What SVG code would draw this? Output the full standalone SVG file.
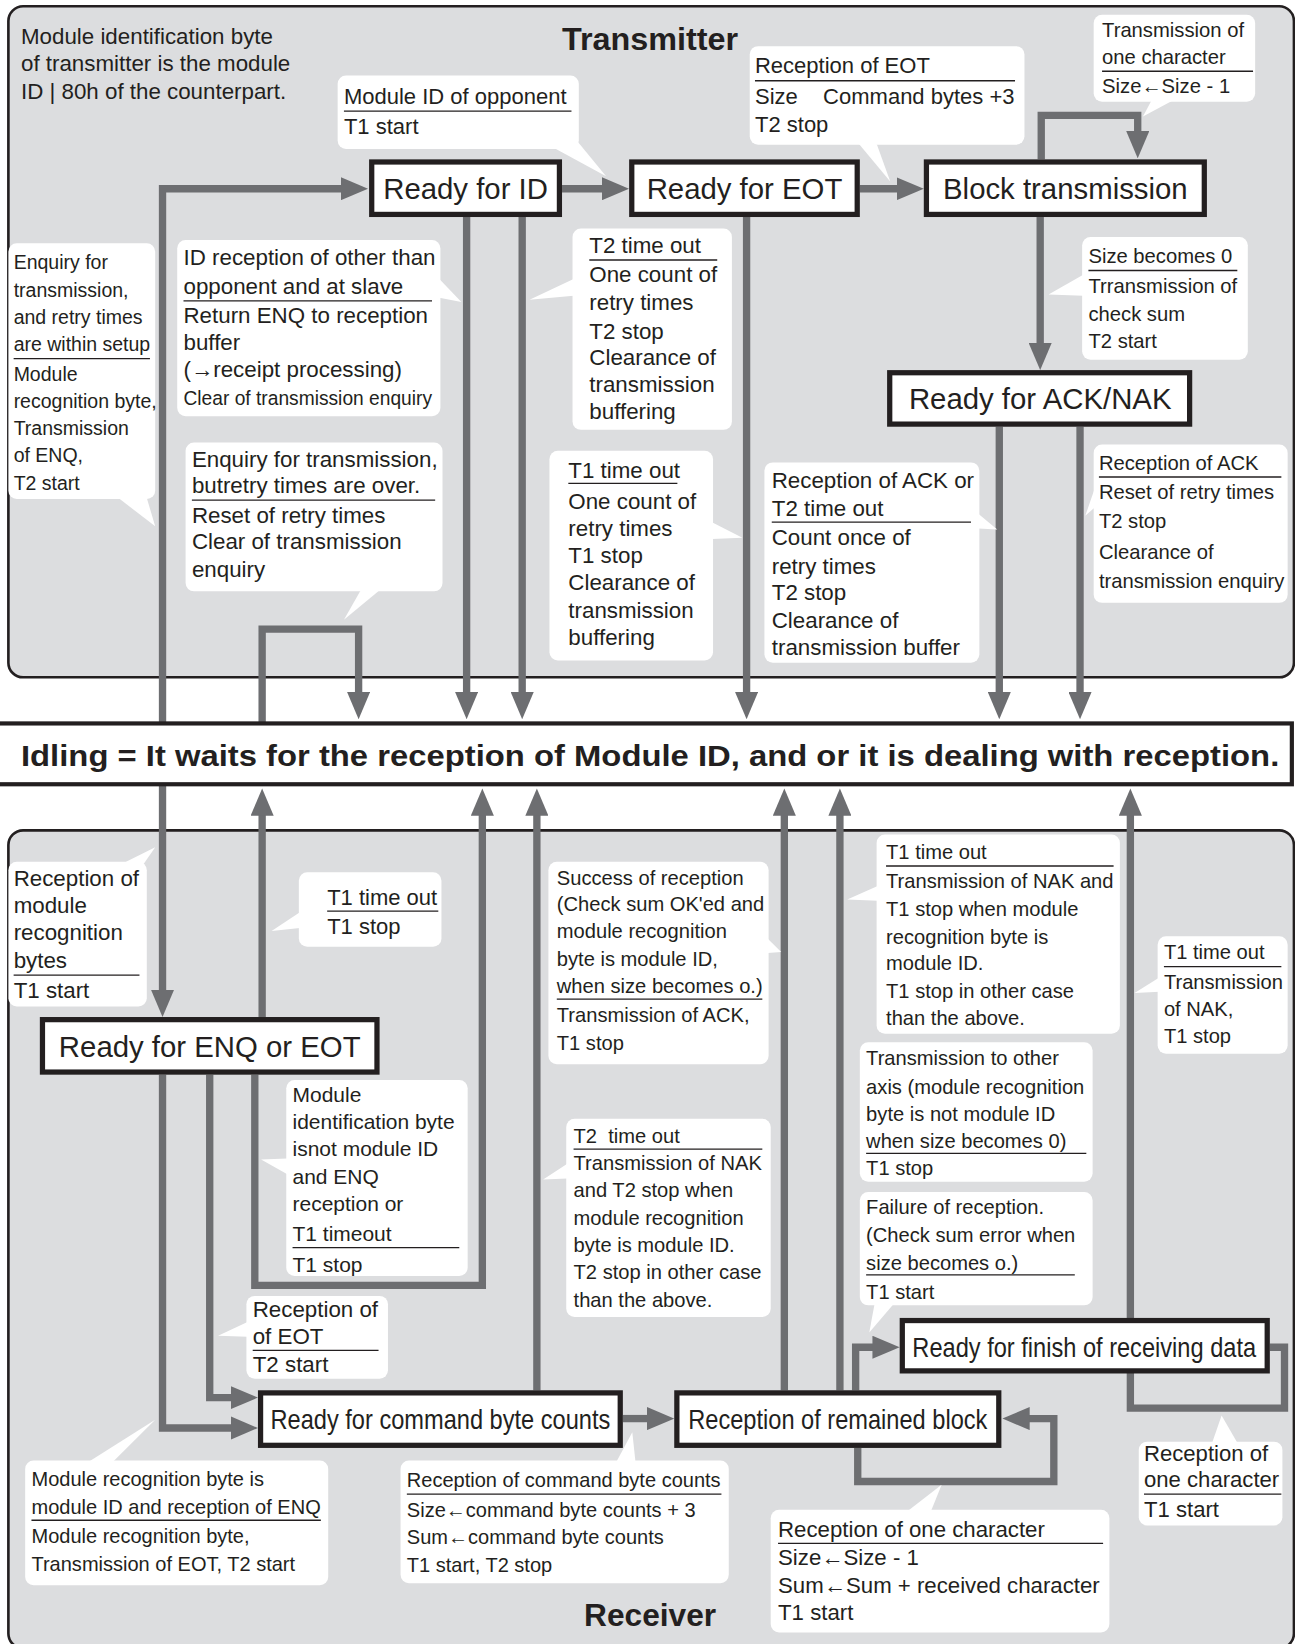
<svg xmlns="http://www.w3.org/2000/svg" width="1295" height="1644" viewBox="0 0 1295 1644">
<style>
.panel{fill:#dcdddf;stroke:#231f20;stroke-width:2.5}
.title{font-family:"Liberation Sans",Arial,sans-serif;font-weight:bold;font-size:30px;fill:#231f20;text-anchor:middle}
.node rect{fill:#fff;stroke:#231f20;stroke-width:5}
.node text{font-family:"Liberation Sans",Arial,sans-serif;font-size:28px;fill:#231f20;text-anchor:middle}
.node text.narrow{font-size:26.5px}
.wire{fill:none;stroke:#6d6e71;stroke-width:7;stroke-linejoin:miter;marker-end:url(#ah)}
.note rect,.note polygon{fill:#fff}
.note text{font-family:"Liberation Sans",Arial,sans-serif;fill:#231f20}
.rule{stroke:#231f20;stroke-width:1.3}
.plain{font-family:"Liberation Sans",Arial,sans-serif;font-size:21.3px;fill:#231f20}
</style>
<defs>
<marker id="ah" viewBox="0 0 26 22" refX="1" refY="11" markerWidth="26" markerHeight="22" markerUnits="userSpaceOnUse" orient="auto">
<path d="M0,0 L26,11 L0,22 z" fill="#6d6e71"/>
</marker>
</defs>
<rect width="1295" height="1644" fill="#fff"/>
<g transform="scale(1.04858,1.04847)">

<!-- panels -->
<g id="transmitter-panel">
<rect class="panel" x="8" y="6" width="1226" height="640" rx="14"/>
<text class="title" x="620" y="48" textLength="168" lengthAdjust="spacingAndGlyphs">Transmitter</text>
<text class="plain" x="20" y="42">Module identification byte</text>
<text class="plain" x="20" y="68">of transmitter is the module</text>
<text class="plain" x="20" y="94">ID | 80h of the counterpart.</text>
</g>
<g id="receiver-panel">
<rect class="panel" x="8" y="792" width="1226" height="780" rx="14"/>
<text class="title" x="620" y="1551" textLength="126" lengthAdjust="spacingAndGlyphs">Receiver</text>
</g>

<!-- connectors -->
<g id="connectors">
<path class="wire" d="M155,690 V180 H326"/>
<path class="wire" d="M536,180 H575"/>
<path class="wire" d="M820,180 H856"/>
<path class="wire" d="M993,152 V110 H1085 V126"/>
<path class="wire" d="M992,207 V328"/>
<path class="wire" d="M445,207 V661"/>
<path class="wire" d="M498,207 V661"/>
<path class="wire" d="M712,207 V661"/>
<path class="wire" d="M953,407 V661"/>
<path class="wire" d="M1030,407 V661"/>
<path class="wire" d="M250,690 V600 H342 V661"/>

<path class="wire" d="M155,747 V945"/>
<path class="wire" d="M250,970 V777"/>
<path class="wire" d="M243,1025 V1226 H460 V777"/>
<path class="wire" d="M200,1025 V1333 H221"/>
<path class="wire" d="M155,1025 V1362 H221"/>
<path class="wire" d="M512,1326 V777"/>
<path class="wire" d="M594,1353 H618"/>
<path class="wire" d="M818,1381 V1413 H1005 V1353 H981"/>
<path class="wire" d="M748,1326 V777"/>
<path class="wire" d="M801,1326 V777"/>
<path class="wire" d="M816,1326 V1285 H833"/>
<path class="wire" d="M1211,1285 H1225 V1343 H1078 V777"/>
</g>

<!-- idle state bar -->
<g id="idling">
<rect x="-5" y="690" width="1237" height="58" fill="#fff" stroke="#231f20" stroke-width="4"/>
<text x="620" y="731" font-family="Liberation Sans, Arial, sans-serif" font-weight="bold" font-size="29" fill="#231f20" text-anchor="middle" textLength="1200" lengthAdjust="spacingAndGlyphs">Idling = It waits for the reception of Module ID, and or it is dealing with reception.</text>
</g>

<!-- transmitter states -->
<g id="ready-for-id" class="node"><rect x="354.5" y="154.5" width="179" height="50"/><text x="444" y="190">Ready for ID</text></g>
<g id="ready-for-eot" class="node"><rect x="602.5" y="154.5" width="215" height="50"/><text x="710" y="190">Ready for EOT</text></g>
<g id="block-transmission" class="node"><rect x="883.5" y="154.5" width="265" height="50"/><text x="1016" y="190">Block transmission</text></g>
<g id="ready-for-ack-nak" class="node"><rect x="848.5" y="355.5" width="286" height="49"/><text x="992" y="390">Ready for ACK/NAK</text></g>

<!-- receiver states (narrow type, horizontally condensed) -->
<g id="ready-for-enq-eot" class="node"><rect x="40.5" y="972.5" width="319" height="50"/><text x="200" y="1008">Ready for ENQ or EOT</text></g>
<g id="ready-for-cmd-count" class="node"><rect x="248.5" y="1328.5" width="343" height="50"/><text class="narrow" transform="translate(420,1363) scale(0.85,1)" x="0" y="0">Ready for command byte counts</text></g>
<g id="reception-remained-block" class="node"><rect x="645.5" y="1328.5" width="307" height="50"/><text class="narrow" transform="translate(799,1363) scale(0.85,1)" x="0" y="0">Reception of remained block</text></g>
<g id="ready-for-finish" class="node"><rect x="860.5" y="1259.5" width="348" height="48"/><text class="narrow" transform="translate(1034,1294) scale(0.85,1)" x="0" y="0">Ready for finish of receiving data</text></g>

<!-- transition labels -->
<g id="lbl-module-id" class="note" font-size="21">
<rect x="322" y="72" width="230" height="70" rx="8"/><polygon points="528,141 550,134 578,168"/>
<text x="328" y="99">Module ID of opponent</text><line class="rule" x1="328" y1="106" x2="545" y2="106"/>
<text x="328" y="128">T1 start</text>
</g>
<g id="lbl-reception-eot" class="note" font-size="21">
<rect x="715" y="44" width="262" height="94" rx="8"/><polygon points="819,137 836,137 849,173"/>
<text x="720" y="70">Reception of EOT</text><line class="rule" x1="720" y1="77" x2="968" y2="77"/>
<text x="720" y="99">Size</text><text x="785" y="99">Command bytes +3</text>
<text x="720" y="126">T2 stop</text>
</g>
<g id="lbl-one-char-tx" class="note" font-size="19.3">
<rect x="1043" y="14" width="154" height="83" rx="8"/><polygon points="1098,96 1118,96 1090,111"/>
<text x="1051" y="35">Transmission of</text>
<text x="1051" y="61">one character</text><line class="rule" x1="1051" y1="68" x2="1195" y2="68"/>
<text x="1051" y="89">Size←Size - 1</text>
</g>
<g id="lbl-size-zero" class="note" font-size="19.3">
<rect x="1032" y="226" width="158" height="117" rx="8"/><polygon points="1033,262 1033,282 1000,281"/>
<text x="1038" y="251">Size becomes 0</text><line class="rule" x1="1038" y1="258" x2="1180" y2="258"/>
<text x="1038" y="279">Trransmission of</text>
<text x="1038" y="306">check sum</text>
<text x="1038" y="332">T2 start</text>
</g>
<g id="lbl-enquiry-setup" class="note" font-size="18.6">
<rect x="8" y="232" width="140" height="244" rx="8"/><polygon points="113,475 140,475 148,502"/>
<text x="13" y="257">Enquiry for</text>
<text x="13" y="283">transmission,</text>
<text x="13" y="309">and retry times</text>
<text x="13" y="335">are within setup</text><line class="rule" x1="13" y1="342" x2="143" y2="342"/>
<text x="13" y="363">Module</text>
<text x="13" y="389">recognition byte,</text>
<text x="13" y="415">Transmission</text>
<text x="13" y="441">of ENQ,</text>
<text x="13" y="467">T2 start</text>
</g>
<g id="lbl-id-other" class="note" font-size="21.3">
<rect x="169" y="229" width="251" height="168" rx="8"/><polygon points="419,266 419,284 440,288"/>
<text x="175" y="253">ID reception of other than</text>
<text x="175" y="280">opponent and at slave</text><line class="rule" x1="175" y1="287" x2="412" y2="287"/>
<text x="175" y="308">Return ENQ to reception</text>
<text x="175" y="334">buffer</text>
<text x="175" y="360">(→receipt processing)</text>
<text x="175" y="386" font-size="19.5" textLength="237" lengthAdjust="spacingAndGlyphs">Clear of transmission enquiry</text>
</g>
<g id="lbl-retry-over" class="note" font-size="21.3">
<rect x="177" y="422" width="245" height="142" rx="8"/><polygon points="344,563 362,563 328,591"/>
<text x="183" y="445">Enquiry for transmission,</text>
<text x="183" y="470">butretry times are over.</text><line class="rule" x1="183" y1="477" x2="415" y2="477"/>
<text x="183" y="499">Reset of retry times</text>
<text x="183" y="524">Clear of transmission</text>
<text x="183" y="550">enquiry</text>
</g>
<g id="lbl-t2-timeout-eot" class="note" font-size="21.3">
<rect x="546" y="218" width="152" height="192" rx="8"/><polygon points="547,266 547,282 505,286"/>
<text x="562" y="241">T2 time out</text><line class="rule" x1="562" y1="248" x2="684" y2="248"/>
<text x="562" y="269">One count of</text>
<text x="562" y="296">retry times</text>
<text x="562" y="323">T2 stop</text>
<text x="562" y="348">Clearance of</text>
<text x="562" y="374">transmission</text>
<text x="562" y="400">buffering</text>
</g>
<g id="lbl-t1-timeout-id" class="note" font-size="21.3">
<rect x="524" y="430" width="156" height="200" rx="8"/><polygon points="679,498 679,514 708,513"/>
<text x="542" y="456">T1 time out</text><line class="rule" x1="542" y1="461" x2="646" y2="461"/>
<text x="542" y="485">One count of</text>
<text x="542" y="511">retry times</text>
<text x="542" y="537">T1 stop</text>
<text x="542" y="563">Clearance of</text>
<text x="542" y="589">transmission</text>
<text x="542" y="615">buffering</text>
</g>
<g id="lbl-ack-or-t2" class="note" font-size="21.3">
<rect x="729" y="441" width="205" height="191" rx="8"/><polygon points="933,490 933,504 951,505"/>
<text x="736" y="465">Reception of ACK or</text>
<text x="736" y="492">T2 time out</text><line class="rule" x1="736" y1="498" x2="926" y2="498"/>
<text x="736" y="520">Count once of</text>
<text x="736" y="547">retry times</text>
<text x="736" y="572">T2 stop</text>
<text x="736" y="599">Clearance of</text>
<text x="736" y="625">transmission buffer</text>
</g>
<g id="lbl-ack" class="note" font-size="19.3">
<rect x="1043" y="424" width="185" height="151" rx="8"/><polygon points="1044,466 1044,484 1035,492"/>
<text x="1048" y="448">Reception of ACK</text><line class="rule" x1="1048" y1="455" x2="1222" y2="455"/>
<text x="1048" y="476">Reset of retry times</text>
<text x="1048" y="504">T2 stop</text>
<text x="1048" y="533">Clearance of</text>
<text x="1048" y="561">transmission enquiry</text>
</g>

<!-- receiver transition labels -->
<g id="lbl-recog-bytes" class="note" font-size="21.3">
<rect x="8" y="822" width="132" height="138" rx="8"/><polygon points="116,824 137,824 148,808"/>
<text x="13" y="845">Reception of</text>
<text x="13" y="871">module</text>
<text x="13" y="897">recognition</text>
<text x="13" y="923">bytes</text><line class="rule" x1="13" y1="930" x2="133" y2="930"/>
<text x="13" y="952">T1 start</text>
</g>
<g id="lbl-t1-timeout-enq" class="note" font-size="21">
<rect x="285" y="832" width="136" height="71" rx="8"/><polygon points="286,870 286,885 259,888"/>
<text x="312" y="863">T1 time out</text><line class="rule" x1="312" y1="869" x2="418" y2="869"/>
<text x="312" y="891">T1 stop</text>
</g>
<g id="lbl-success" class="note" font-size="19.2">
<rect x="523" y="822" width="210" height="193" rx="8"/><polygon points="732,895 732,909 745,908"/>
<text x="531" y="844">Success of reception</text>
<text x="531" y="869">(Check sum OK'ed and</text>
<text x="531" y="895">module recognition</text>
<text x="531" y="921">byte is module ID,</text>
<text x="531" y="947">when size becomes o.)</text><line class="rule" x1="531" y1="953" x2="727" y2="953"/>
<text x="531" y="975">Transmission of ACK,</text>
<text x="531" y="1001">T1 stop</text>
</g>
<g id="lbl-t1-timeout-block" class="note" font-size="19.2">
<rect x="836" y="796" width="232" height="190" rx="8"/><polygon points="837,845 837,859 808,858"/>
<text x="845" y="819">T1 time out</text><line class="rule" x1="845" y1="826" x2="1062" y2="826"/>
<text x="845" y="847">Transmission of NAK and</text>
<text x="845" y="874">T1 stop when module</text>
<text x="845" y="900">recognition byte is</text>
<text x="845" y="925">module ID.</text>
<text x="845" y="952">T1 stop in other case</text>
<text x="845" y="978">than the above.</text>
</g>
<g id="lbl-t1-timeout-finish" class="note" font-size="19.2">
<rect x="1104" y="893" width="124" height="112" rx="8"/><polygon points="1106,932 1106,946 1082,947"/>
<text x="1110" y="915">T1 time out</text><line class="rule" x1="1110" y1="922" x2="1222" y2="922"/>
<text x="1110" y="943">Transmission</text>
<text x="1110" y="969">of NAK,</text>
<text x="1110" y="995">T1 stop</text>
</g>
<g id="lbl-other-axis" class="note" font-size="19.2">
<rect x="820" y="994" width="222" height="133" rx="8"/>
<text x="826" y="1016">Transmission to other</text>
<text x="826" y="1043">axis (module recognition</text>
<text x="826" y="1069">byte is not module ID</text>
<text x="826" y="1095">when size becomes 0)</text><line class="rule" x1="826" y1="1100" x2="1036" y2="1100"/>
<text x="826" y="1121">T1 stop</text>
</g>
<g id="lbl-failure" class="note" font-size="19.2">
<rect x="820" y="1137" width="222" height="108" rx="8"/><polygon points="834,1244 852,1244 829,1271"/>
<text x="826" y="1158">Failure of reception.</text>
<text x="826" y="1185">(Check sum error when</text>
<text x="826" y="1211">size becomes o.)</text><line class="rule" x1="826" y1="1216" x2="1025" y2="1216"/>
<text x="826" y="1239">T1 start</text>
</g>
<g id="lbl-not-module-id" class="note" font-size="20">
<rect x="273" y="1030" width="173" height="187" rx="8"/><polygon points="274,1105 274,1120 249,1106"/>
<text x="279" y="1051">Module</text>
<text x="279" y="1077">identification byte</text>
<text x="279" y="1103">isnot module ID</text>
<text x="279" y="1129">and ENQ</text>
<text x="279" y="1155">reception or</text>
<text x="279" y="1184">T1 timeout</text><line class="rule" x1="279" y1="1190" x2="438" y2="1190"/>
<text x="279" y="1213">T1 stop</text>
</g>
<g id="lbl-reception-eot-rx" class="note" font-size="21.3">
<rect x="235" y="1236" width="135" height="79" rx="8"/><polygon points="236,1261 236,1275 208,1274"/>
<text x="241" y="1256">Reception of</text>
<text x="241" y="1282">of EOT</text><line class="rule" x1="241" y1="1288" x2="361" y2="1288"/>
<text x="241" y="1309">T2 start</text>
</g>
<g id="lbl-t2-timeout-cmd" class="note" font-size="19.2">
<rect x="540" y="1067" width="195" height="189" rx="8"/><polygon points="541,1110 541,1124 518,1125"/>
<text x="547" y="1090" xml:space="preserve">T2  time out</text><line class="rule" x1="547" y1="1096" x2="727" y2="1096"/>
<text x="547" y="1116">Transmission of NAK</text>
<text x="547" y="1142">and T2 stop when</text>
<text x="547" y="1168">module recognition</text>
<text x="547" y="1194">byte is module ID.</text>
<text x="547" y="1220">T2 stop in other case</text>
<text x="547" y="1247">than the above.</text>
</g>
<g id="lbl-enq-received" class="note" font-size="19.1">
<rect x="24" y="1393" width="289" height="119" rx="8"/><polygon points="85,1394 108,1394 148,1354"/>
<text x="30" y="1417">Module recognition byte is</text>
<text x="30" y="1444">module ID and reception of ENQ</text><line class="rule" x1="30" y1="1450" x2="306" y2="1450"/>
<text x="30" y="1472">Module recognition byte,</text>
<text x="30" y="1498">Transmission of EOT, T2 start</text>
</g>
<g id="lbl-cmd-count" class="note" font-size="19.1">
<rect x="382" y="1393" width="313" height="117" rx="8"/><polygon points="588,1394 606,1394 603,1366"/>
<text x="388" y="1418">Reception of command byte counts</text><line class="rule" x1="388" y1="1425" x2="688" y2="1425"/>
<text x="388" y="1447">Size←command byte counts + 3</text>
<text x="388" y="1473">Sum←command byte counts</text>
<text x="388" y="1499">T1 start, T2 stop</text>
</g>
<g id="lbl-one-char-block" class="note" font-size="21.2">
<rect x="735" y="1440" width="323" height="117" rx="8"/><polygon points="866,1441 888,1441 898,1416"/>
<text x="742" y="1466">Reception of one character</text><line class="rule" x1="742" y1="1472" x2="1052" y2="1472"/>
<text x="742" y="1493">Size←Size - 1</text>
<text x="742" y="1519">Sum←Sum + received character</text>
<text x="742" y="1545">T1 start</text>
</g>
<g id="lbl-one-char-finish" class="note" font-size="21.1">
<rect x="1086" y="1375" width="137" height="80" rx="8"/><polygon points="1156,1376 1180,1376 1165,1350"/>
<text x="1091" y="1393">Reception of</text>
<text x="1091" y="1418">one character</text><line class="rule" x1="1091" y1="1425" x2="1222" y2="1425"/>
<text x="1091" y="1447">T1 start</text>
</g>
</g>
</svg>
